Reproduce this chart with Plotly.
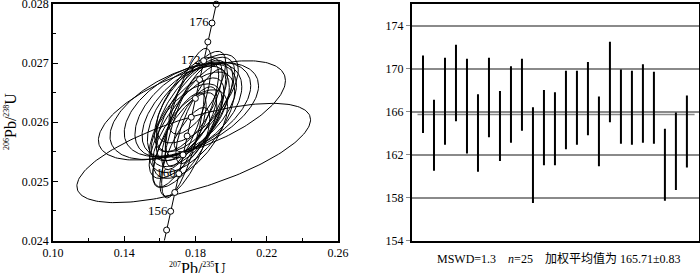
import numpy as np
import plotly.graph_objects as go

# ---------------- data ----------------
# Concordia ages (Ma) marked on the curve
conc_marker_ages = [154, 156, 158, 160, 162, 164, 166, 168, 170, 172, 174, 176, 178]
conc_line_ages = [150, 152, 154, 156, 158, 160, 162, 164, 166, 168, 170, 172, 174, 176, 178, 180, 182]
conc_label_ages = [156, 160, 172, 176]

# Error ellipses: 207Pb/235U centre, 206Pb/238U centre, half-extents and correlation
ell_cx = [0.179, 0.178, 0.1737, 0.1755, 0.176, 0.1765, 0.176,
          0.176, 0.173, 0.178, 0.180, 0.175, 0.181, 0.177, 0.174, 0.182,
          0.178, 0.171, 0.181, 0.176, 0.177, 0.175, 0.183, 0.174, 0.180]
ell_cy = [0.02548, 0.0262, 0.02619, 0.02622, 0.0262, 0.0262, 0.02615,
          0.02625, 0.02575, 0.0262, 0.0263, 0.0259, 0.0264, 0.0261, 0.0257, 0.0262,
          0.0260, 0.0257, 0.0265, 0.0263, 0.0258, 0.02595, 0.0261, 0.0255, 0.02605]
ell_sx = [0.0656, 0.0525, 0.0417, 0.0355, 0.030, 0.0265, 0.023,
          0.013, 0.012, 0.020, 0.022, 0.021, 0.023, 0.016, 0.018, 0.019,
          0.024, 0.015, 0.016, 0.019, 0.021, 0.020, 0.014, 0.014, 0.012]
ell_sy = [0.00084, 0.00084, 0.00082, 0.0008, 0.0008, 0.00078, 0.0008,
          0.0010, 0.00103, 0.00085, 0.0008, 0.00085, 0.00075, 0.0009, 0.0008, 0.0008,
          0.00085, 0.0008, 0.0007, 0.0008, 0.00075, 0.0007, 0.0008, 0.00075, 0.00055]
ell_rho = [0.67, 0.6, 0.52, 0.5, 0.5, 0.55, 0.55,
           0.75, 0.75, 0.72, 0.68, 0.72, 0.65, 0.78, 0.72, 0.7,
           0.62, 0.75, 0.72, 0.65, 0.62, 0.6, 0.78, 0.75, 0.7]

# Weighted-mean plot: age error bar tops and bottoms (Ma)
spot_no = list(range(1, 26))
age_top = [171.2, 167.1, 171.0, 172.2, 170.9, 167.6, 171.0, 167.9, 170.2, 170.9,
           166.4, 168.0, 167.8, 169.8, 169.8, 170.6, 167.4, 172.5, 169.9, 169.8,
           170.4, 169.7, 164.4, 165.9, 167.5]
age_bot = [164.0, 160.5, 162.9, 165.1, 162.1, 160.4, 163.6, 161.4, 163.1, 164.2,
           157.5, 161.0, 161.0, 162.5, 162.9, 163.8, 160.9, 165.0, 163.0, 162.9,
           163.1, 163.0, 157.7, 158.7, 160.8]
mean_age = 165.71
mean_err = 0.83
mswd = 1.3
right_yticks = [154, 158, 162, 166, 170, 174]
left_xticks = [0.10, 0.14, 0.18, 0.22, 0.26]
left_yticks = [0.024, 0.025, 0.026, 0.027, 0.028]

# ---------------- helpers ----------------
L238 = 1.55125e-10
L235 = 9.8485e-10


def conc(t):
    t = np.asarray(t, float) * 1e6
    return np.exp(L235 * t) - 1, np.exp(L238 * t) - 1


SERIF = "Liberation Serif, Times New Roman, Noto Sans CJK SC, serif"

fig = go.Figure()

# ellipses
theta = np.linspace(0, 2 * np.pi, 200)
for cx, cy, sx, sy, r in zip(ell_cx, ell_cy, ell_sx, ell_sy, ell_rho):
    ex = cx + sx * np.cos(theta)
    ey = cy + sy * (r * np.cos(theta) + np.sqrt(1 - r * r) * np.sin(theta))
    fig.add_trace(go.Scatter(x=ex, y=ey, mode="lines", line=dict(color="black", width=1),
                             hoverinfo="skip", showlegend=False, xaxis="x", yaxis="y"))

# concordia
lx, ly = conc(conc_line_ages)
fig.add_trace(go.Scatter(x=lx, y=ly, mode="lines", line=dict(color="black", width=1),
                         showlegend=False, xaxis="x", yaxis="y"))
mx, my = conc(conc_marker_ages)
fig.add_trace(go.Scatter(x=mx, y=my, mode="markers", cliponaxis=False,
                         marker=dict(symbol="circle", size=6, color="white",
                                     line=dict(color="black", width=1)),
                         showlegend=False, xaxis="x", yaxis="y"))
tx, ty = conc(conc_label_ages)
fig.add_trace(go.Scatter(x=tx, y=ty, mode="text", text=[str(a) + " " for a in conc_label_ages],
                         textposition="middle left",
                         textfont=dict(family=SERIF, size=13, color="black"),
                         showlegend=False, xaxis="x", yaxis="y"))

# weighted mean plot
mid = [(a + b) / 2 for a, b in zip(age_top, age_bot)]
fig.add_trace(go.Scatter(x=[0.5, 25.7], y=[mean_age, mean_age], mode="lines",
                         line=dict(color="#8a8a8a", width=1.5), showlegend=False,
                         xaxis="x2", yaxis="y2"))
fig.add_trace(go.Scatter(
    x=spot_no, y=mid, mode="markers", marker=dict(size=0.1, color="rgba(0,0,0,0)"),
    error_y=dict(type="data", symmetric=False,
                 array=[t - m for t, m in zip(age_top, mid)],
                 arrayminus=[m - b for m, b in zip(mid, age_bot)],
                 width=0, thickness=2, color="black"),
    showlegend=False, xaxis="x2", yaxis="y2"))

fig.update_layout(
    width=700, height=273,
    margin=dict(l=0, r=0, t=0, b=0),
    paper_bgcolor="white", plot_bgcolor="white",
    font=dict(family=SERIF, size=12, color="black"),
    xaxis=dict(domain=[53 / 700, 338 / 700], range=[0.10, 0.26], automargin=False,
               tickvals=left_xticks, ticktext=["%.2f" % v for v in left_xticks],
               ticks="inside", ticklen=5, tickwidth=1, tickcolor="black",
               minor=dict(dtick=0.02, ticks="inside", ticklen=3, tickcolor="black"),
               showline=True, linecolor="black", linewidth=1.5, mirror=True,
               showgrid=False, zeroline=False, ticklabeloverflow="allow",
               tickfont=dict(family=SERIF, size=12)),
    yaxis=dict(domain=[(273 - 240.5) / 273, (273 - 4) / 273], range=[0.024, 0.028],
               automargin=False,
               tickvals=left_yticks, ticktext=["%.3f" % v for v in left_yticks],
               ticks="inside", ticklen=5, tickwidth=1, tickcolor="black",
               minor=dict(dtick=0.0005, ticks="inside", ticklen=3, tickcolor="black"),
               showline=True, linecolor="black", linewidth=1.5, mirror=True,
               showgrid=False, zeroline=False, ticklabeloverflow="allow",
               tickfont=dict(family=SERIF, size=12)),
    xaxis2=dict(domain=[412 / 700, 699 / 700], range=[0, 26.1], anchor="y2",
                automargin=False,
                showticklabels=False, ticks="", showgrid=False, zeroline=False,
                showline=True, linecolor="black", linewidth=2, mirror=True),
    yaxis2=dict(domain=[(273 - 240.5) / 273, (273 - 4) / 273], range=[154, 176], anchor="x2",
                automargin=False, ticklabeloverflow="allow",
                tickvals=right_yticks, ticks="outside", ticklen=4, tickcolor="#8a8a8a",
                showgrid=True, gridcolor="#8a8a8a", gridwidth=1.5, zeroline=False,
                showline=True, linecolor="black", linewidth=2, mirror=True,
                tickfont=dict(family=SERIF, size=12)),
)

SUP = "<sup><span style='font-size:8px'>%s</span></sup>"
fig.add_annotation(x=197 / 700, y=(273 - 268) / 273, xref="paper", yref="paper",
                   text=SUP % "207" + "Pb/" + SUP % "235" + "U", showarrow=False,
                   font=dict(family=SERIF, size=16), xanchor="center", yanchor="middle")
fig.add_annotation(x=11 / 700, y=(273 - 122) / 273, xref="paper", yref="paper",
                   text=SUP % "206" + "Pb/" + SUP % "238" + "U", showarrow=False, textangle=-90,
                   font=dict(family=SERIF, size=16), xanchor="center", yanchor="middle")
fig.add_annotation(x=558 / 700, y=(273 - 258) / 273, xref="paper", yref="paper",
                   text="MSWD=%.1f    <i>n</i>=%d    加权平均值为 %.2f±%.2f"
                        % (mswd, len(spot_no), mean_age, mean_err),
                   showarrow=False, font=dict(family=SERIF, size=12),
                   xanchor="center", yanchor="middle")

fig.write_html("out.html", config={"displayModeBar": False},
               post_script="document.body.style.margin='0';document.body.style.overflow='hidden';")
